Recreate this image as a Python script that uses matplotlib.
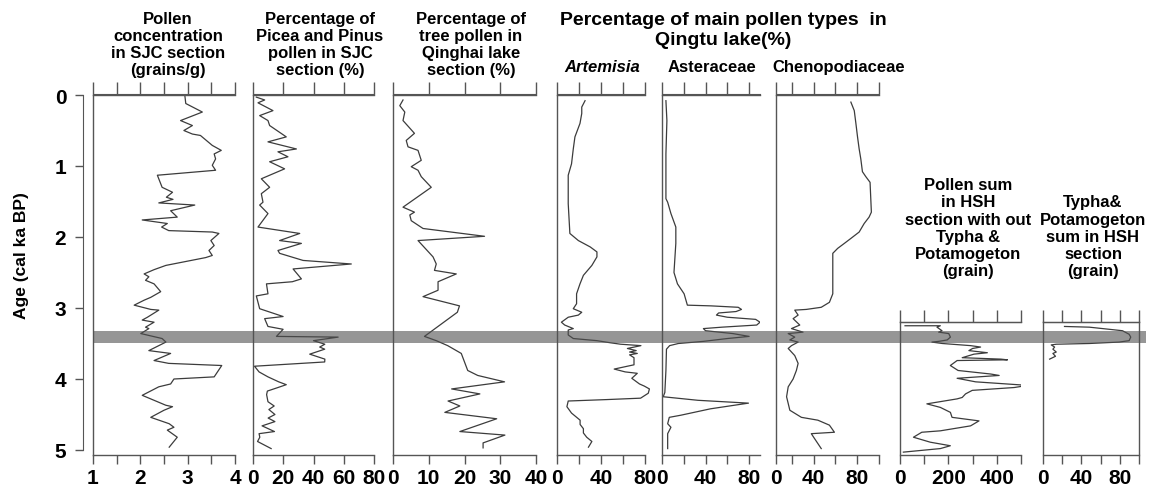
import numpy as np
import matplotlib
matplotlib.use('Agg')
import matplotlib.pyplot as plt
from matplotlib.patches import Rectangle
from matplotlib import transforms

plt.rcParams['font.family'] = ['Liberation Sans', 'DejaVu Sans']
plt.rcParams['font.weight'] = 'bold'

# ---- data (age in cal ka BP, value) ----
conc_age = [0.005, 0.12, 0.24, 0.36, 0.43, 0.50, 0.55, 0.57, 0.71, 0.78, 0.83, 0.90, 0.99, 1.06,
            1.13, 1.30, 1.37, 1.44, 1.47, 1.52, 1.55, 1.63, 1.72, 1.76, 1.81, 1.86, 1.91, 1.93,
            1.95, 2.05, 2.12, 2.19, 2.26, 2.29, 2.40, 2.46, 2.52, 2.56, 2.61, 2.66, 2.77, 2.85,
            2.89, 2.96, 3.02, 3.03, 3.13, 3.17, 3.20, 3.27, 3.29, 3.36, 3.43, 3.48, 3.60, 3.64,
            3.74, 3.78, 3.81, 3.97, 4.00, 4.07, 4.11, 4.23, 4.37, 4.39, 4.44, 4.54, 4.63, 4.68,
            4.72, 4.82, 4.96]
conc_val = [2.94, 2.96, 3.31, 2.85, 3.10, 2.92, 3.10, 3.27, 3.52, 3.71, 3.56, 3.59, 3.52, 3.59,
            2.36, 2.46, 2.68, 2.55, 2.69, 2.39, 3.15, 2.64, 2.78, 2.04, 2.57, 2.45, 2.60, 3.52,
            3.66, 3.49, 3.56, 3.45, 3.52, 3.38, 2.54, 2.29, 2.08, 2.18, 2.11, 2.29, 2.43, 2.22,
            2.08, 1.87, 2.22, 2.39, 2.15, 2.04, 2.29, 2.11, 2.18, 2.01, 2.46, 2.54, 2.18, 2.64,
            2.29, 2.60, 3.72, 3.56, 2.71, 2.64, 2.39, 2.04, 2.54, 2.68, 2.50, 2.22, 2.61, 2.71,
            2.57, 2.78, 2.61]

picea_age = [0.03, 0.07, 0.11, 0.22, 0.29, 0.36, 0.43, 0.59, 0.66, 0.76, 0.80, 0.87, 0.94, 1.04,
             1.18, 1.30, 1.39, 1.51, 1.55, 1.67, 1.86, 1.95, 2.05, 2.09, 2.19, 2.23, 2.33, 2.38,
             2.45, 2.59, 2.63, 2.66, 2.80, 2.83, 3.01, 3.12, 3.15, 3.26, 3.30, 3.40, 3.41, 3.46,
             3.51, 3.55, 3.58, 3.65, 3.72, 3.76, 3.82, 3.90, 3.97, 4.04, 4.08, 4.12, 4.17, 4.22,
             4.32, 4.38, 4.43, 4.50, 4.55, 4.60, 4.66, 4.74, 4.77, 4.82, 4.88, 4.98]
picea_val = [2.2, 7.7, 3.3, 13.2, 4.4, 9.9, 11.0, 22.0, 9.9, 28.7, 16.5, 23.1, 11.0, 20.9,
             5.5, 11.0, 5.5, 6.6, 4.4, 9.9, 3.3, 30.9, 17.6, 32.0, 16.5, 17.6, 33.1, 65.0,
             26.5, 32.0, 26.0, 8.9, 9.9, 2.2, 4.4, 19.9, 7.7, 9.9, 19.9, 15.5, 56.3, 40.0,
             47.5, 44.1, 47.4, 37.5, 47.5, 47.4, 1.0, 4.0, 9.9, 17.0, 22.0, 16.5, 9.5, 9.0,
             9.9, 14.0, 10.5, 14.5, 10.0, 14.5, 6.0, 14.2, 4.0, 4.5, 3.0, 12.0]

tree_age = [0.07, 0.15, 0.24, 0.36, 0.54, 0.64, 0.73, 0.78, 0.92, 1.01, 1.06, 1.15, 1.30, 1.58,
            1.65, 1.69, 1.77, 1.88, 1.99, 2.05, 2.28, 2.38, 2.47, 2.52, 2.63, 2.75, 2.84, 2.97,
            3.06, 3.40, 3.46, 3.53, 3.64, 3.76, 3.88, 3.95, 4.04, 4.14, 4.21, 4.31, 4.38, 4.47,
            4.56, 4.74, 4.79, 4.90, 4.97]
tree_val = [2.8, 1.9, 3.3, 2.8, 6.0, 3.7, 4.2, 7.0, 7.9, 5.1, 7.0, 7.9, 10.7, 2.8,
            6.0, 4.7, 5.1, 8.4, 25.6, 7.0, 11.2, 12.1, 11.6, 17.7, 12.6, 12.6, 8.4, 18.6,
            18.0, 8.8, 12.1, 15.3, 19.1, 20.0, 20.9, 23.7, 31.2, 16.4, 24.3, 15.4, 18.7, 14.5,
            29.0, 18.7, 31.3, 25.2, 25.2]

artem_age = [0.08, 0.17, 0.26, 0.40, 0.59, 0.76, 0.97, 1.13, 1.30, 1.53, 1.95, 2.05, 2.14, 2.21,
             2.28, 2.40, 2.54, 2.66, 2.80, 2.94, 3.01, 3.06, 3.10, 3.13, 3.20, 3.24, 3.29, 3.31,
             3.38, 3.43, 3.46, 3.49, 3.51, 3.53, 3.57, 3.60, 3.62, 3.64, 3.66, 3.70, 3.80, 3.86,
             3.90, 3.92, 3.99, 4.07, 4.10, 4.14, 4.20, 4.27, 4.29, 4.31, 4.39, 4.48, 4.58, 4.64,
             4.70, 4.76, 4.82, 4.88, 4.96]
artem_val = [25.5, 22.5, 22.5, 20.9, 16.3, 14.8, 13.2, 10.2, 10.2, 10.2, 11.7, 19.4, 30.2, 36.3,
             36.3, 31.7, 24.0, 20.9, 17.8, 17.8, 14.8, 22.5, 19.4, 10.2, 4.0, 7.0, 14.8, 10.2,
             10.2, 14.8, 36.3, 48.6, 57.8, 76.3, 64.0, 72.0, 66.0, 73.0, 66.0, 70.0, 70.0, 52.0,
             62.0, 73.0, 68.0, 75.0, 79.4, 84.0, 83.0, 76.0, 45.0, 10.2, 9.0, 13.2, 21.0, 21.0,
             24.0, 24.0, 27.0, 31.7, 28.6]

aster_age = [0.08, 0.36, 0.83, 1.46, 1.51, 1.67, 1.86, 2.09, 2.50, 2.66, 2.80, 2.96, 2.97, 2.99,
             3.02, 3.05, 3.07, 3.10, 3.13, 3.16, 3.20, 3.24, 3.27, 3.29, 3.32, 3.36, 3.40, 3.43,
             3.47, 3.50, 3.53, 3.58, 3.88, 4.19, 4.25, 4.30, 4.34, 4.42, 4.51, 4.54, 4.63, 4.68,
             4.77, 4.98]
aster_val = [3.6, 4.5, 3.6, 3.6, 5.2, 8.2, 12.7, 12.7, 11.0, 14.2, 20.3, 23.3, 45.0, 70.0,
             73.0, 68.0, 52.0, 50.0, 60.0, 86.0, 90.0, 87.0, 55.0, 38.0, 40.0, 65.0, 80.0, 60.0,
             38.0, 15.0, 7.0, 4.1, 3.6, 2.6, 1.1, 33.0, 79.4, 44.5, 17.3, 6.7, 5.2, 8.2,
             5.2, 5.2]

cheno_age = [0.10, 0.22, 0.40, 0.59, 0.76, 0.90, 1.08, 1.15, 1.23, 1.44, 1.65, 1.72, 1.81, 1.93,
             2.02, 2.09, 2.16, 2.23, 2.52, 2.80, 2.92, 2.99, 3.02, 3.03, 3.10, 3.15, 3.24, 3.29,
             3.34, 3.36, 3.41, 3.45, 3.48, 3.53, 3.57, 3.67, 3.78, 3.88, 4.00, 4.11, 4.25, 4.44,
             4.54, 4.58, 4.65, 4.75, 4.77, 4.84, 4.98]
cheno_val = [74.2, 77.3, 78.8, 80.3, 81.8, 83.3, 84.8, 87.9, 91.8, 92.4, 93.0, 90.9, 86.4, 81.8,
             74.2, 68.2, 62.1, 57.6, 57.6, 57.6, 54.5, 47.0, 33.3, 22.7, 25.8, 21.2, 27.3, 19.7,
             30.3, 16.7, 22.7, 18.2, 25.8, 19.7, 16.7, 22.7, 25.8, 24.2, 21.2, 16.7, 15.2, 18.2,
             28.8, 43.9, 54.5, 59.1, 37.9, 40.9, 47.0]

hsh_age = [3.25, 3.25, 3.27, 3.32, 3.34, 3.36, 3.41, 3.45, 3.47, 3.48, 3.50, 3.53, 3.55, 3.57,
           3.60, 3.63, 3.65, 3.70, 3.72, 3.73, 3.74, 3.81, 3.88, 3.93, 3.95, 3.99, 4.04, 4.09,
           4.12, 4.16, 4.21, 4.26, 4.28, 4.35, 4.40, 4.47, 4.54, 4.59, 4.66, 4.73, 4.75, 4.82,
           4.89, 4.94, 4.98, 5.03]
hsh_val = [20.8, 166.7, 152.8, 173.6, 159.7, 201.4, 208.3, 195.0, 160.0, 131.9, 175.0, 291.7, 333.0, 300.0,
           284.7, 361.0, 305.6, 257.0, 416.7, 444.0, 236.0, 208.0, 240.0, 375.0, 409.7, 236.0, 312.5, 527.8,
           472.0, 298.6, 270.8, 257.0, 236.0, 111.0, 166.7, 208.3, 215.0, 326.4, 291.7, 166.7, 90.0, 55.6,
           125.0, 208.0, 166.7, 13.9]

typha_age = [3.26, 3.27, 3.32, 3.37, 3.41, 3.46, 3.48, 3.50, 3.51, 3.52, 3.55, 3.58, 3.62, 3.64,
             3.68, 3.72]
typha_val = [22.4, 48.3, 82.8, 89.7, 91.4, 89.7, 79.3, 48.3, 13.8, 8.6, 12.1, 10.3, 13.8, 10.3,
             13.0, 6.9]

band = (3.33, 3.49)

# ---- layout ----
W, H = 1152, 489
fig = plt.figure(figsize=(W / 100, H / 100), dpi=100)

def fx(px):
    return px / W

def fy(py):
    return 1 - py / H

y_top, y_bot = 95.5, 455.5
age_top = (y_top - 96) / 71.0
age_bot = (y_bot - 96) / 71.0
lc = '#3c3c3c'

def make_panel(x0, x1, xlim, ticks, labels, top_px=y_top, right=False):
    top_age = (top_px - 96) / 71.0
    ax = fig.add_axes([fx(x0), fy(y_bot), fx(x1) - fx(x0), fy(top_px) - fy(y_bot)])
    ax.set_facecolor('none')
    ax.set_xlim(*xlim)
    ax.set_ylim(age_bot, top_age)
    ax.set_yticks([])
    ax.spines['right'].set_visible(right)
    for s in ax.spines.values():
        s.set_color('#555555')
        s.set_linewidth(1.0)
    ax.set_xticks(ticks)
    ax.set_xticklabels(labels)
    ax.tick_params(axis='x', direction='out', length=6.5, width=1.0, color='#555555',
                   labelsize=15, pad=3)
    sec = ax.secondary_xaxis('top')
    sec.set_xticks(ticks)
    sec.set_xticklabels([])
    sec.tick_params(axis='x', direction='out', length=8.5, width=1.0, color='#555555')
    sec.spines['top'].set_color('#555555')
    return ax

ax1 = make_panel(93, 235, (1, 4), [1, 1.5, 2, 2.5, 3, 3.5, 4], ['1', '', '2', '', '3', '', '4'])
ax1.plot(conc_val, conc_age, color=lc, lw=0.9)

ax2 = make_panel(253, 374, (0, 80), [0, 20, 40, 60, 80], ['0', '20', '40', '60', '80'])
ax2.plot(picea_val, picea_age, color=lc, lw=0.9)

ax3 = make_panel(393, 536, (0, 40), [0, 10, 20, 30, 40], ['0', '10', '20', '30', '40'])
ax3.plot(tree_val, tree_age, color=lc, lw=0.9)

ax4 = make_panel(557, 645, (0, 80), [0, 20, 40, 60, 80], ['0', '', '40', '', '80'])
ax4.plot(artem_val, artem_age, color=lc, lw=0.9, clip_on=False)

ax5 = make_panel(662, 760, (0, 90), [0, 20, 40, 60, 80], ['0', '', '40', '', '80'])
ax5.plot(aster_val, aster_age, color=lc, lw=0.9)

ax6 = make_panel(776, 879, (5.5, 100), [5.5, 20, 40, 60, 80, 100], ['0', '', '40', '', '80', ''])
ax6.plot(cheno_val, cheno_age, color=lc, lw=0.9)

ax7 = make_panel(900, 1021, (0, 500), [0, 100, 200, 300, 400, 500], ['0', '', '200', '', '400', ''],
                 top_px=322.7)
ax7.plot(hsh_val, hsh_age, color=lc, lw=0.9)

ax8 = make_panel(1043, 1139, (0, 100), [0, 20, 40, 60, 80, 100], ['0', '', '40', '', '80', ''],
                 top_px=322.7, right=True)
ax8.plot(typha_val, typha_age, color=lc, lw=0.9)

# age axis
axa = fig.add_axes([fx(83), fy(y_bot), 0.0001, fy(y_top) - fy(y_bot)])
axa.set_facecolor('none')
axa.set_ylim(age_bot, age_top)
axa.set_xticks([])
for k in ['top', 'right', 'bottom']:
    axa.spines[k].set_visible(False)
axa.spines['left'].set_bounds(0, 5)
axa.spines['left'].set_color('#555555')
axa.set_yticks([0, 1, 2, 3, 4, 5])
axa.tick_params(axis='y', direction='out', length=6, width=1.0, color='#555555',
                labelsize=15, pad=6)
fig.text(fx(22), fy(256), 'Age (cal ka BP)', rotation=90, ha='center', va='center', fontsize=12.5)

# grey marker band
tr = transforms.blended_transform_factory(fig.transFigure, ax1.transData)
fig.add_artist(Rectangle((fx(93), band[0]), fx(1146) - fx(93), band[1] - band[0],
                         transform=tr, color='#505050', alpha=0.6, lw=0, zorder=10))

# titles
tkw = dict(ha='center', va='baseline', fontsize=12, linespacing=1.18, multialignment='center')
fig.text(fx(168), fy(75), 'Pollen\nconcentration\nin SJC section\n(grains/g)', **tkw)
fig.text(fx(320), fy(75), 'Percentage of\nPicea and Pinus\npollen in SJC\nsection (%)', **tkw)
fig.text(fx(471), fy(75), 'Percentage of\ntree pollen in\nQinghai lake\nsection (%)', **tkw)
fig.text(fx(723), fy(45), 'Percentage of main pollen types  in\nQingtu lake(%)',
         ha='center', va='baseline', fontsize=14, linespacing=1.22)
fig.text(fx(602), fy(72), 'Artemisia', ha='center', va='baseline', fontsize=12, style='italic')
fig.text(fx(712), fy(72), 'Asteraceae', ha='center', va='baseline', fontsize=12)
fig.text(fx(839), fy(72), 'Chenopodiaceae', ha='center', va='baseline', fontsize=12)
fig.text(fx(968), fy(276), 'Pollen sum\nin HSH\nsection with out\nTypha &\nPotamogeton\n(grain)', **tkw)
fig.text(fx(1093), fy(276), 'Typha&\nPotamogeton\nsum in HSH\nsection\n(grain)', **tkw)

plt.savefig('out.png', dpi=100)
